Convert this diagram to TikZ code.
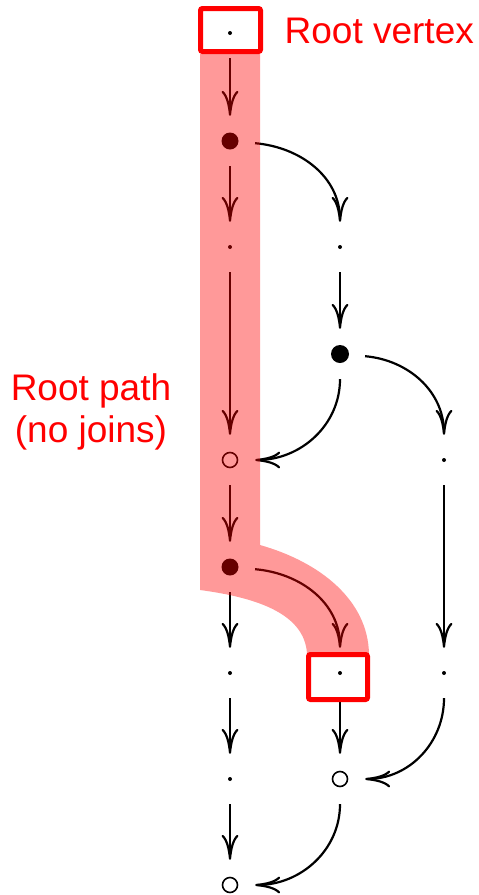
\documentclass[tikz,border=0pt]{standalone}
\usepackage{fontspec}
\setmainfont{Liberation Sans}
\usetikzlibrary{arrows.meta}
\begin{document}
\begin{tikzpicture}[x=1pt,y=-1pt,
  vtx/.style={circle, minimum size=50pt, inner sep=0pt, draw=none},
  conn/.style={line width=2.2pt, -{Computer Modern Rightarrow[length=25pt,width=17pt]}},
  lbl/.style={text=red, font=\fontsize{37}{43}\selectfont, inner sep=0pt},
  hilite/.style={red, line width=5pt, rounded corners=2pt}
]
\useasboundingbox (0,0) rectangle (479,895);
% vertices
\node[vtx] (r0) at (230,33) {};
\node[vtx] (a1) at (230,141) {};
\node[vtx] (a2) at (230,247) {};
\node[vtx] (a3) at (230,460) {};
\node[vtx] (a4) at (230,567) {};
\node[vtx] (a5) at (230,673) {};
\node[vtx] (a6) at (230,779) {};
\node[vtx] (a7) at (230,885) {};
\node[vtx] (b1) at (340,247) {};
\node[vtx] (b2) at (340,354) {};
\node[vtx] (b3) at (340,673) {};
\node[vtx] (b4) at (340,779) {};
\node[vtx] (c1) at (444,460) {};
\node[vtx] (c2) at (444,673) {};
% marks
\foreach \n in {r0,a2,a5,a6,b1,b3,c1,c2} \fill (\n) circle[radius=2pt];
\foreach \n in {a1,a4} \fill (\n) circle[radius=8.5pt];
\fill (b2) circle[radius=9pt];
\foreach \n in {a3,b4,a7} \draw[line width=1.6pt] (\n) circle[radius=7.5pt];
% connectors
\draw[conn] (r0) -- (a1);
\draw[conn] (a1) -- (a2);
\draw[conn] (a2) -- (a3);
\draw[conn] (a3) -- (a4);
\draw[conn] (a4) -- (a5);
\draw[conn] (a5) -- (a6);
\draw[conn] (a6) -- (a7);
\draw[conn] (a1) to[out=-5,in=90] (b1);
\draw[conn] (b1) -- (b2);
\draw[conn] (b2) to[out=-90,in=0] (a3);
\draw[conn] (b2) to[out=-5,in=90] (c1);
\draw[conn] (c1) -- (c2);
\draw[conn] (a4) to[out=-5,in=90] (b3);
\draw[conn] (b3) -- (b4);
\draw[conn] (c2) to[out=-90,in=0] (b4);
\draw[conn] (b4) to[out=-90,in=0] (a7);
% root path overlay
\fill[red, opacity=0.4] (200,54) -- (260,54) -- (260,545)
  .. controls (320,562) and (368,600) .. (369,654) -- (307,654)
  .. controls (305,615) and (260,598) .. (200,590) -- cycle;
% highlight boxes
\draw[hilite] (200.5,8.5) rectangle (260.5,51.5);
\draw[hilite] (308.5,654.5) rectangle (367.5,699.5);
% labels
\node[lbl, anchor=base west] (lv) at (284.5,43) {Root vertex};
\node[lbl, anchor=base] (lp1) at (91,400) {Root path};
\node[lbl, anchor=base] (lp2) at (91,442) {(no joins)};
\end{tikzpicture}
\end{document}
